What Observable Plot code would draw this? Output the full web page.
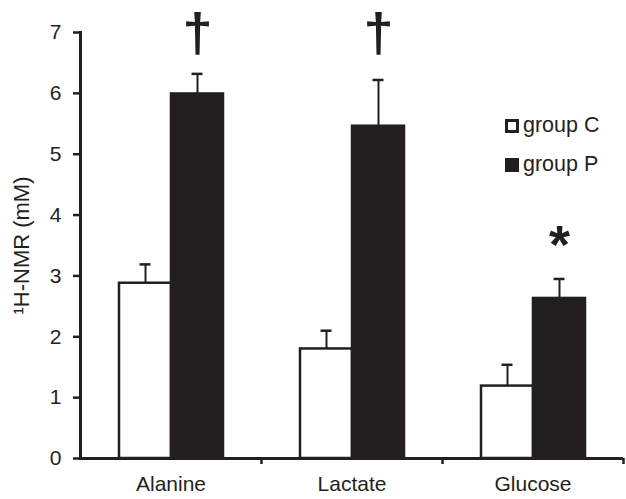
<!DOCTYPE html>
<html>
<head>
<meta charset="utf-8">
<script src="https://cdn.jsdelivr.net/npm/d3@7"></script>
<script src="https://cdn.jsdelivr.net/npm/@observablehq/plot@0.6"></script>
<style>
  html, body { margin: 0; padding: 0; background: white; }
  #wrap { position: relative; width: 626px; height: 499px; font-family: "Liberation Sans", Arial, sans-serif; color: #231f20; }
  #legend { position: absolute; left: 505px; top: 106px; font-size: 21.5px; line-height: 39px; }
  .item { display: flex; align-items: center; white-space: nowrap; }
  .sw { width: 14px; height: 14px; box-sizing: border-box; margin-right: 4px; border: 3px solid #231f20; }
</style>
</head>
<body>
<div id="wrap"></div>
<script>
const categories = ["Alanine", "Lactate", "Glucose"];
const groups = ["group C", "group P"];
const meanC = [2.88, 1.80, 1.19];
const errC = [0.31, 0.30, 0.35];
const meanP = [5.99, 5.46, 2.63];
const errP = [0.33, 0.76, 0.32];
const signs = ["†", "†", "*"];
const signY = [6.98, 6.98, 3.5];
const yTicks = [0, 1, 2, 3, 4, 5, 6, 7];
const groupColors = ["white", "#231f20"];

const data = categories.flatMap((c, i) => [
  {category: c, group: groups[0], mean: meanC[i], err: errC[i]},
  {category: c, group: groups[1], mean: meanP[i], err: errP[i]}
]);
const notes = categories.map((c, i) => ({category: c, group: groups[1], sign: signs[i], y: signY[i]}));

const ink = "#231f20";
const chart = Plot.plot({
  width: 626, height: 499,
  marginLeft: 80, marginRight: 3, marginTop: 32, marginBottom: 41,
  style: {fontFamily: "'Liberation Sans', Arial, sans-serif", fontSize: "20px", color: ink, background: "white", overflow: "visible"},
  fx: {domain: categories, padding: 0, label: null, axis: null},
  x: {domain: groups, paddingInner: 0, paddingOuter: 0.74, axis: null},
  y: {domain: [0, 7], label: null},
  color: {domain: groups, range: groupColors},
  marks: [
    Plot.barY(data, {fx: "category", x: "group", y: "mean", fill: "group", stroke: ink, strokeWidth: 2.5}),
    Plot.ruleX(data, {fx: "category", x: "group", y1: "mean", y2: d => d.mean + d.err, stroke: ink, strokeWidth: 2}),
    Plot.tickY(data, {fx: "category", x: "group", y: d => d.mean + d.err, stroke: ink, strokeWidth: 2.5, insetLeft: 20.5, insetRight: 20.5}),
    Plot.ruleY([0], {stroke: ink, strokeWidth: 3}),
    Plot.frame({anchor: "left", facetAnchor: "left", stroke: ink, strokeWidth: 3}),
    Plot.axisY({ticks: yTicks, tickFormat: d3.format("d"), tickSize: 7, tickPadding: 12, strokeWidth: 2.5, fontSize: 21,
      label: "¹H-NMR (mM)", labelAnchor: "center", labelArrow: "none", labelOffset: 67}),
    Plot.axisFx({anchor: "bottom", tickSize: 0, tickPadding: 18, fontSize: 21, label: null}),
    Plot.axisFx({anchor: "bottom", tickSize: 6, dx: 90.5, tickFormat: () => "", strokeWidth: 2.5, label: null}),
    Plot.text(notes, {fx: "category", x: "group", y: "y", text: "sign", fontSize: 54, fontWeight: "bold", fill: ink, lineAnchor: "middle"})
  ]
});
const wrap = document.getElementById("wrap");
wrap.appendChild(chart);
const yLabel = chart.querySelector('g[aria-label="y-axis label"] text');
if (yLabel) yLabel.style.fontSize = "22px";
const legend = document.createElement("div");
legend.id = "legend";
legend.innerHTML = groups.map((g, i) =>
  `<div class="item"><span class="sw" style="background:${groupColors[i]}"></span>${g}</div>`).join("");
wrap.appendChild(legend);
</script>
</body>
</html>
